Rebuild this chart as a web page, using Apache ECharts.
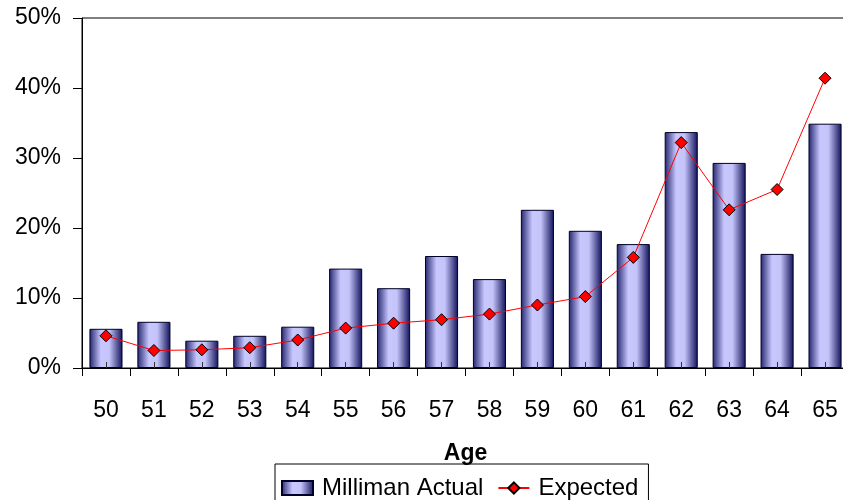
<!DOCTYPE html>
<html>
<head>
<meta charset="utf-8">
<script src="https://cdn.jsdelivr.net/npm/echarts@6/dist/echarts.min.js"></script>
<style>html,body{margin:0;padding:0;background:#fff}#c{width:843px;height:500px}</style>
</head>
<body>
<div id="c"></div>
<script>
var categories = ['50','51','52','53','54','55','56','57','58','59','60','61','62','63','64','65'];
var millimanActual = [5.6, 6.6, 3.9, 4.6, 5.9, 14.2, 11.4, 16.0, 12.7, 22.6, 19.6, 17.7, 33.7, 29.3, 16.3, 34.9];
var expected = [4.6, 2.5, 2.6, 2.9, 4.0, 5.7, 6.4, 6.9, 7.7, 9.0, 10.2, 15.8, 32.2, 22.6, 25.5, 41.4];
var yTicks = [0, 10, 20, 30, 40, 50];

var FONT = '"Liberation Sans", Arial, sans-serif';
var chart = echarts.init(document.getElementById('c'), null, {renderer: 'canvas'});
var barGrad = new echarts.graphic.LinearGradient(0, 0, 1, 0, [
  {offset: 0, color: '#24246e'},
  {offset: 0.35, color: '#c8c8ff'},
  {offset: 0.6, color: '#c4c4fa'},
  {offset: 1, color: '#10105a'}
]);
chart.setOption({
  animation: false,
  textStyle: {fontFamily: FONT},
  grid: {left: 82, top: 18, width: 767, height: 350, outerBoundsMode: 'none', containLabel: false,
         show: true, borderColor: '#000', borderWidth: 1},
  legend: {
    left: 275, top: 464,
    padding: [12, 10, 10, 6],
    borderColor: '#000', borderWidth: 1,
    itemWidth: 31, itemHeight: 14, itemGap: 14,
    textStyle: {fontSize: 24, color: '#000', fontFamily: FONT, padding: [0, 0, 0, 4]},
    data: [{name: 'Milliman Actual', icon: 'rect'}, 'Expected']
  },
  xAxis: [{
    type: 'category', data: categories,
    name: 'Age', nameLocation: 'middle', nameGap: 74,
    nameTextStyle: {fontSize: 23, fontWeight: 'bold', color: '#000', fontFamily: FONT},
    axisLine: {lineStyle: {color: '#000', width: 1}},
    axisTick: {show: true, length: 8, alignWithLabel: false, lineStyle: {color: '#000'}},
    axisLabel: {fontSize: 23, color: '#000', margin: 31, fontFamily: FONT}
  }, {
    type: 'category', data: categories, position: 'bottom', z: 10,
    axisLine: {show: false},
    axisTick: {show: true, inside: true, length: 6, alignWithLabel: true, lineStyle: {color: '#333'}},
    axisLabel: {show: false}
  }],
  yAxis: {
    type: 'value', min: yTicks[0], max: yTicks[yTicks.length - 1], interval: 10,
    splitLine: {show: false},
    axisLine: {show: true, lineStyle: {color: '#000', width: 1}},
    axisTick: {show: true, length: 9, lineStyle: {color: '#000'}},
    axisLabel: {fontSize: 23, color: '#000', margin: 21, formatter: '{value}%', fontFamily: FONT}
  },
  series: [{
    name: 'Milliman Actual', type: 'bar', data: millimanActual,
    barCategoryGap: '31%',
    itemStyle: {color: barGrad, borderColor: '#000028', borderWidth: 1}
  }, {
    name: 'Expected', type: 'line', data: expected,
    symbol: 'diamond', symbolSize: 12,
    lineStyle: {color: '#ff0000', width: 1},
    itemStyle: {color: '#ff0000', borderColor: '#000', borderWidth: 1},
    z: 5
  }]
});
</script>
</body>
</html>
